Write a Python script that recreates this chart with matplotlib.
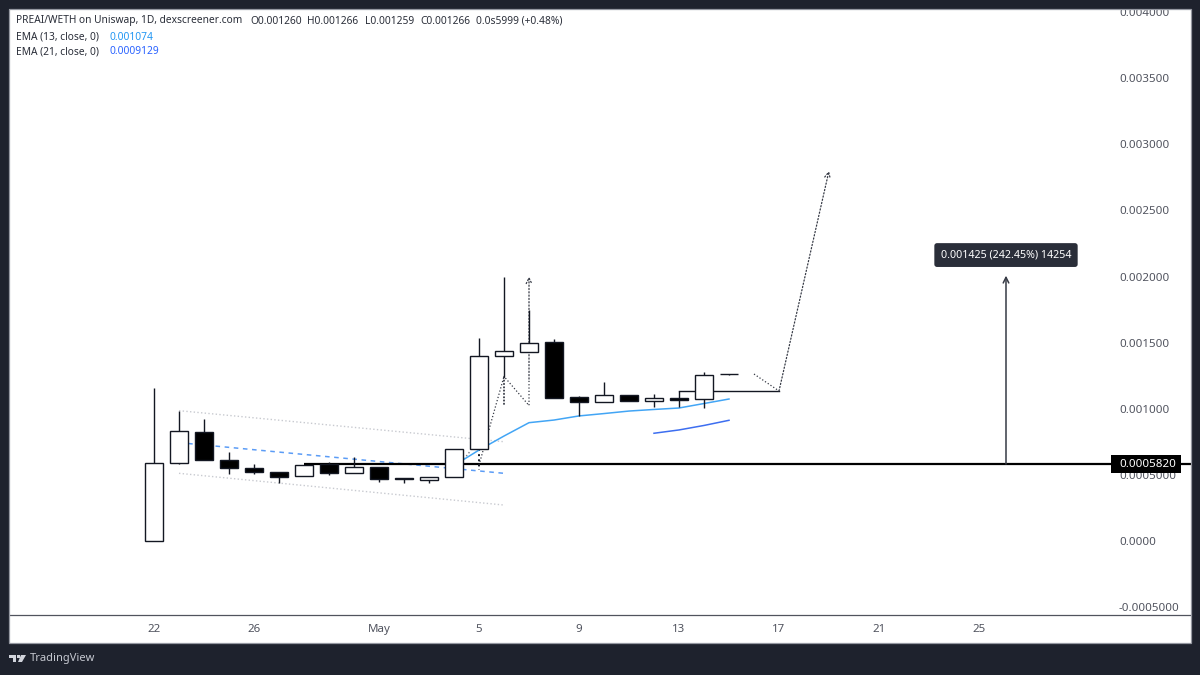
import matplotlib
matplotlib.use("Agg")
import matplotlib.pyplot as plt
from matplotlib.patches import Rectangle, Polygon, Circle

plt.rcParams['font.family'] = ['Noto Sans', 'DejaVu Sans']

# candles, one per day from Apr 22 (day 0)
opens = [0.0, 0.000592, 0.000827, 0.000613, 0.000550, 0.000524, 0.000489, 0.000580,
         0.000517, 0.000557, 0.000477, 0.000461, 0.000482, 0.000694, 0.001397, 0.001432,
         0.001503, 0.001089, 0.001049, 0.001107, 0.001057, 0.001082, 0.001072, 0.001260]
highs = [0.001157, 0.000986, 0.000921, 0.000673, 0.000580, 0.000524, 0.000573, 0.000600,
         0.000633, 0.000557, 0.000477, 0.000482, 0.000694, 0.001536, 0.001999, 0.001747,
         0.001526, 0.001097, 0.001203, 0.001107, 0.001110, 0.001132, 0.001278, 0.001266]
lows = [0.0, 0.000582, 0.000610, 0.000507, 0.000507, 0.000439, 0.000489, 0.000499,
        0.000517, 0.000446, 0.000441, 0.000441, 0.000482, 0.000694, 0.001243, 0.001432,
        0.001084, 0.000946, 0.001049, 0.001057, 0.001016, 0.001014, 0.001004, 0.001259]
closes = [0.000592, 0.000830, 0.000610, 0.000550, 0.000522, 0.000486, 0.000573, 0.000514,
          0.000557, 0.000467, 0.000471, 0.000482, 0.000694, 0.001397, 0.001435, 0.001500,
          0.001084, 0.001049, 0.001107, 0.001057, 0.001079, 0.001069, 0.001256, 0.001266]

ema13_days = [12, 13, 14, 15, 16, 17, 18, 19, 20, 21, 22, 23]
ema13 = [0.000571, 0.000688, 0.000794, 0.000895, 0.000915, 0.000946, 0.000964, 0.000983,
         0.000995, 0.001006, 0.001040, 0.001074]
ema21_days = [20, 21, 22, 23]
ema21 = [0.000815, 0.000840, 0.000874, 0.000913]

# drawings on the chart
channel_days = [1, 14]
channel_up = [0.000986, 0.000751]
channel_mid = [0.000744, 0.000512]
channel_low = [0.000512, 0.000272]
level = 0.000582
flat_days = [21, 25]
flat_price = [0.001135, 0.001135]
path1_days = [13, 14, 14, 14, 15, 15]
path1_price = [0.000575, 0.001245, 0.001025, 0.001245, 0.001025, 0.001225]
path1_tip = (15, 0.002)
stub_days = [12.4, 12.65]
stub_price = [0.000620, 0.000680]
below_days = [13, 13]
below_price = [0.000694, 0.000537]
path2_days = [24, 25, 27]
path2_price = [0.001263, 0.001135, 0.00280]
measure_day = 34.08
measure_top = 0.002007

xtick_days = [0, 4, 9, 13, 17, 21, 25, 29, 33]
xtick_labels = ['22', '26', 'May', '5', '9', '13', '17', '21', '25']
yticks = [-0.0005, 0.0, 0.0005, 0.001, 0.0015, 0.002, 0.0025, 0.003, 0.0035, 0.004]
ytick_labels = ['-0.0005000', '0.0000', '0.0005000', '0.001000', '0.001500', '0.002000',
                '0.002500', '0.003000', '0.003500', '0.004000']

DARK = '#1e222d'
TXT = '#50535e'
DOTS = '#363a45'


def fx(x):
    return x / 1200


def fy(y):
    return 1 - y / 675


fig = plt.figure(figsize=(12, 6.75), dpi=100, facecolor=DARK)
fig.add_artist(Rectangle((fx(9), fy(643)), fx(1182), 634 / 675, transform=fig.transFigure,
                         facecolor='white', edgecolor='none', zorder=-1))

ax = fig.add_axes([fx(10), fy(615), fx(1181), 605 / 675], facecolor='none')
ax.set_xlim((10 - 154) / 25, (1191 - 154) / 25)
ax.set_ylim(-74 / 132200, 531 / 132200)

ax.plot(channel_days, channel_up, ls=':', color='#c8cad0', lw=1, zorder=1)
ax.plot(channel_days, channel_low, ls=':', color='#c8cad0', lw=1, zorder=1)
ax.plot(channel_days, channel_mid, ls=(0, (3, 3)), color='#5b9cf6', lw=1.1, zorder=1)

ax.hlines(level, 6, ax.get_xlim()[1], color='black', lw=1.6, zorder=2)
ax.plot(flat_days, flat_price, color='#131722', lw=1, zorder=2)

ax.plot(path1_days, path1_price, ls=':', color=DOTS, lw=0.9, zorder=2)
ax.plot(stub_days, stub_price, ls=':', color='#787b86', lw=1, zorder=2)
ax.plot(below_days, below_price, ls=':', color='#131722', lw=1.4, zorder=2)
ax.annotate('', xy=path1_tip, xytext=(path1_days[-1], path1_price[-1]),
            arrowprops=dict(arrowstyle='->', ls=':', color=DOTS, lw=0.9, shrinkA=0, shrinkB=0),
            zorder=2)
ax.plot(path2_days[:2], path2_price[:2], ls=':', color=DOTS, lw=0.9, zorder=2)
ax.annotate('', xy=(path2_days[2], path2_price[2]), xytext=(path2_days[1], path2_price[1]),
            arrowprops=dict(arrowstyle='->', ls=':', color=DOTS, lw=0.9, shrinkA=0, shrinkB=0),
            zorder=2)

ax.plot(ema13_days, ema13, color='#42a5f5', lw=1.1, zorder=2.5)
ax.plot(ema21_days, ema21, color='#3d6ef0', lw=1.1, zorder=2.5)

days = list(range(len(opens)))
ax.vlines(days, lows, highs, color='#131722', lw=1, zorder=3)
for d, o, c in zip(days, opens, closes):
    ax.bar(d, abs(c - o), bottom=min(o, c), width=0.72,
           facecolor='white' if c >= o else 'black', edgecolor='#131722', lw=1, zorder=3.2)

ax.annotate('', xy=(measure_day, measure_top), xytext=(measure_day, level),
            arrowprops=dict(arrowstyle='->', color='#363a45', lw=1.1, shrinkA=0, shrinkB=0),
            zorder=4)
ax.text(measure_day, 0.002163, '0.001425 (242.45%) 14254', color='white', fontsize=7.7,
        fontweight='medium', ha='center', va='center', zorder=6,
        bbox=dict(boxstyle='round,pad=0.6,rounding_size=0.25', facecolor='#2a2e39', edgecolor='none'))
ax.add_patch(Rectangle(((1110.7 - 154) / 25, level - 9 / 132200), 70.3 / 25, 18 / 132200,
                       facecolor='black', edgecolor='none', zorder=5))
ax.text((1119 - 154) / 25, level, '0.0005820', color='white', fontsize=8.3, ha='left',
        va='center', zorder=6)

ax.set_xticks(xtick_days)
ax.set_xticklabels(xtick_labels)
ax.get_xticklabels()[2].set_fontweight('bold')
ax.set_yticks(yticks)
ax.set_yticklabels(ytick_labels)
ax.yaxis.tick_right()
ax.tick_params(axis='x', length=0, pad=6.5, labelsize=8.3, labelcolor=TXT)
ax.tick_params(axis='y', length=0, pad=-51.84, labelsize=8.3, labelcolor=TXT)
for s in ['top', 'left', 'right']:
    ax.spines[s].set_visible(False)
ax.spines['bottom'].set_color(TXT)
ax.spines['bottom'].set_linewidth(0.9)

# frame goes over the clipped top label
fig.add_artist(Rectangle((0, fy(9)), 1, 9 / 675, transform=fig.transFigure,
                         facecolor=DARK, edgecolor='none', zorder=10))
fig.add_artist(Rectangle((fx(9), fy(643)), fx(1182), 634 / 675, transform=fig.transFigure,
                         facecolor='none', edgecolor='#9598a1', lw=0.9, zorder=11))

# legend text
head = [(16, 'PREAI/WETH on Uniswap, 1D, dexscreener.com'), (250, 'O0.001260'), (307, 'H0.001266'),
        (365, 'L0.001259'), (420, 'C0.001266'), (476, '0.0s5999 (+0.48%)')]
for x, s in head:
    fig.text(fx(x), fy(21), s, fontsize=7.35, color='#2a2e39', va='center', zorder=12)
fig.text(fx(16), fy(37), 'EMA (13, close, 0)', fontsize=7.35, color='#2a2e39', va='center')
fig.text(fx(109), fy(37), '0.001074', fontsize=7.35, color='#2196f3', va='center')
fig.text(fx(16), fy(52), 'EMA (21, close, 0)', fontsize=7.35, color='#2a2e39', va='center')
fig.text(fx(109), fy(52), '0.0009129', fontsize=7.35, color='#2962ff', va='center')

# TradingView logo and name
logo = '#d1d4dc'
fig.add_artist(Polygon([(fx(9), fy(655)), (fx(16), fy(655)), (fx(16), fy(662)), (fx(13), fy(662)),
                        (fx(13), fy(658)), (fx(9), fy(658))], closed=True,
                       transform=fig.transFigure, facecolor=logo, edgecolor='none', zorder=12))
fig.add_artist(Polygon([(fx(21), fy(655)), (fx(26), fy(655)), (fx(22), fy(662)), (fx(18), fy(662))],
                       closed=True, transform=fig.transFigure, facecolor=logo, edgecolor='none', zorder=12))
fig.add_artist(Rectangle((fx(17), fy(658)), fx(3), 3 / 675, transform=fig.transFigure,
                         facecolor=logo, edgecolor='none', zorder=12))
fig.text(fx(30), fy(659), 'TradingView', fontsize=8, fontweight='medium', color='#c5c8d0',
         va='center', zorder=12)

fig.savefig('out.png', dpi=100, facecolor=DARK)
